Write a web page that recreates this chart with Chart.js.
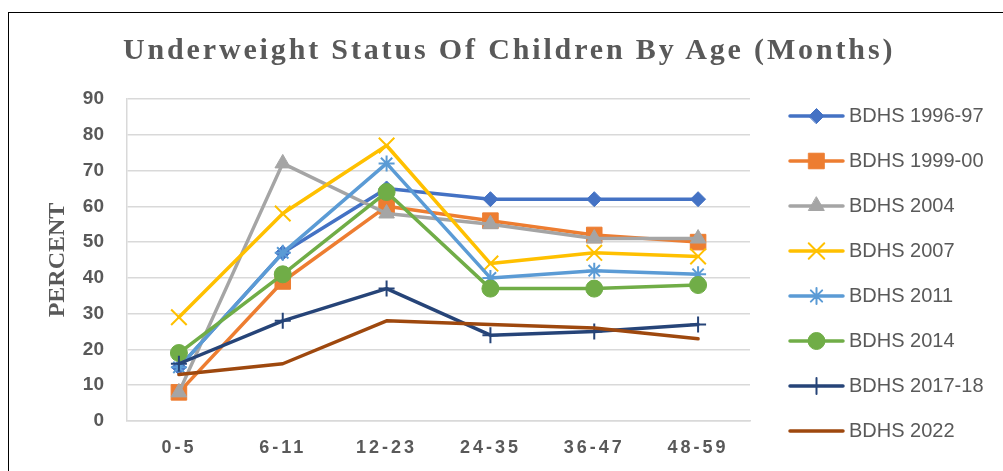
<!DOCTYPE html>
<html>
<head>
<meta charset="utf-8">
<script src="https://cdn.jsdelivr.net/npm/chart.js@4.4.1/dist/chart.umd.min.js"></script>
<style>
  html, body { margin: 0; padding: 0; background: #fff; }
  #wrap { position: relative; width: 1003px; height: 471px; overflow: hidden; }
  #frame { position: absolute; left: 8px; top: 12px; width: 1100px; height: 600px;
           border-top: 1.5px solid #000; border-left: 1.5px solid #000; }
  #title { position: absolute; left: 123px; top: 34px; font: bold 30px 'Liberation Serif', serif;
           line-height: 30px; letter-spacing: 2.85px; color: #595959; white-space: nowrap; }
  canvas { position: absolute; left: 0; top: 0; }
</style>
</head>
<body>
<div id="wrap">
  <div id="frame"></div>
  <canvas id="chart" width="1003" height="471"></canvas>
  <div id="title">Underweight Status Of Children By Age (Months)</div>
</div>
<script>
// Age groups (months) and underweight % per survey round
const ageGroups = ['0-5', '6-11', '12-23', '24-35', '36-47', '48-59'];
const bdhs1996 = [15, 47, 65, 62, 62, 62];
const bdhs1999 = [8, 39, 60, 56, 52, 50];
const bdhs2004 = [8, 72, 58, 55, 51, 51];
const bdhs2007 = [29, 58, 77, 44, 47, 46];
const bdhs2011 = [15, 47, 72, 40, 42, 41];
const bdhs2014 = [19, 41, 64, 37, 37, 38];
const bdhs2017 = [16, 28, 37, 24, 25, 27];
const bdhs2022 = [13, 16, 28, 27, 26, 23];

const seriesLabels = ['BDHS 1996-97', 'BDHS 1999-00', 'BDHS 2004', 'BDHS 2007',
                      'BDHS 2011', 'BDHS 2014', 'BDHS 2017-18', 'BDHS 2022'];
const seriesData = [bdhs1996, bdhs1999, bdhs2004, bdhs2007, bdhs2011, bdhs2014, bdhs2017, bdhs2022];

const TEXT = '#595959';
const GRID = '#d9d9d9';

// marker look per series (Excel office palette)
const styles = [
    { color: '#4472C4', point: 'rectRot', radius: 7.5, bw: 1 },
    { color: '#ED7D31', point: 'rect', radius: 11, bw: 1 },
    { color: '#A5A5A5', point: 'triangle', radius: 9, bw: 1 },
    { color: '#FFC000', point: 'crossRot', radius: 11, bw: 2 },
    { color: '#5B9BD5', point: 'star', radius: 8, bw: 2 },
    { color: '#70AD47', point: 'circle', radius: 8.5, bw: 1 },
    { color: '#264478', point: 'cross', radius: 8, bw: 2 },
    { color: '#9E480E', point: 'circle', radius: 0, bw: 0 }
];

const datasets = seriesData.map((data, i) => ({
    label: seriesLabels[i],
    data: data,
    borderColor: styles[i].color,
    backgroundColor: styles[i].color,
    borderWidth: 3.5,
    borderCapStyle: 'round',
    borderJoinStyle: 'round',
    tension: 0,
    fill: false,
    pointStyle: styles[i].point,
    pointRadius: styles[i].radius,
    pointHoverRadius: styles[i].radius,
    pointBorderWidth: styles[i].bw,
    pointBackgroundColor: styles[i].color,
    pointBorderColor: styles[i].color,
    // later surveys drawn on top, like Excel
    order: seriesData.length - i
}));

// letter-spaced category labels
const spacedTicks = {
    id: 'spacedTicks',
    beforeDraw(chart) {
        const sc = chart.scales.x;
        if (!sc || sc._spaced) return;
        const orig = sc.drawLabels;
        sc.drawLabels = function (area) {
            this.ctx.save();
            this.ctx.letterSpacing = '3px';
            orig.call(this, area);
            this.ctx.restore();
        };
        sc._spaced = true;
    }
};

// legend with line + marker, kept in dataset index order
const lineLegend = {
    id: 'lineLegend',
    afterDraw(chart, args, opts) {
        const ctx = chart.ctx;
        ctx.save();
        chart.data.datasets.forEach((ds, i) => {
            const y = opts.top + i * opts.spacing;
            ctx.strokeStyle = ds.borderColor;
            ctx.lineWidth = ds.borderWidth;
            ctx.lineCap = 'round';
            ctx.beginPath();
            ctx.moveTo(opts.left, y);
            ctx.lineTo(opts.left + opts.lineLength, y);
            ctx.stroke();
            if (ds.pointRadius > 0 && Chart.helpers && Chart.helpers.drawPoint) {
                ctx.fillStyle = ds.pointBackgroundColor;
                ctx.strokeStyle = ds.pointBorderColor;
                ctx.lineWidth = ds.pointBorderWidth;
                Chart.helpers.drawPoint(ctx, {
                    pointStyle: ds.pointStyle,
                    radius: ds.pointRadius,
                    borderWidth: ds.pointBorderWidth,
                    rotation: 0
                }, opts.left + opts.lineLength / 2, y);
            }
            ctx.fillStyle = opts.color;
            ctx.font = opts.font;
            ctx.textAlign = 'left';
            ctx.textBaseline = 'middle';
            ctx.fillText(ds.label, opts.left + opts.lineLength + opts.gap, y);
        });
        ctx.restore();
    }
};

new Chart(document.getElementById('chart'), {
    type: 'line',
    data: { labels: ageGroups, datasets: datasets },
    plugins: [spacedTicks, lineLegend],
    options: {
        responsive: false,
        animation: false,
        devicePixelRatio: 1,
        layout: { padding: { left: 20, top: 99, right: 253, bottom: 0 } },
        plugins: {
            legend: { display: false },
            tooltip: { enabled: false },
            lineLegend: {
                left: 790, top: 116, spacing: 45, lineLength: 53, gap: 6,
                color: TEXT, font: '20px "Liberation Sans", Arial, sans-serif'
            }
        },
        scales: {
            x: {
                offset: true,
                grid: { display: false, drawTicks: false },
                border: { display: true, color: GRID, width: 1.5 },
                ticks: {
                    color: TEXT,
                    padding: 16,
                    font: { family: '"Liberation Sans", Arial, sans-serif', size: 18, weight: 'bold' }
                },
                afterFit: (s) => { s.height = 50; }
            },
            y: {
                min: 0,
                max: 90,
                grid: { color: GRID, lineWidth: 1.5, drawTicks: false },
                border: { display: true, color: GRID, width: 1.5 },
                ticks: {
                    stepSize: 10,
                    color: TEXT,
                    padding: 23,
                    font: { family: '"Liberation Sans", Arial, sans-serif', size: 19, weight: 'bold' }
                },
                title: {
                    display: true,
                    text: 'PERCENT',
                    color: TEXT,
                    padding: { top: 23, bottom: 0 },
                    font: { family: '"Liberation Serif", serif', size: 24, weight: 'bold' }
                },
                afterFit: (s) => { s.width = 107; }
            }
        }
    }
});
</script>
</body>
</html>
